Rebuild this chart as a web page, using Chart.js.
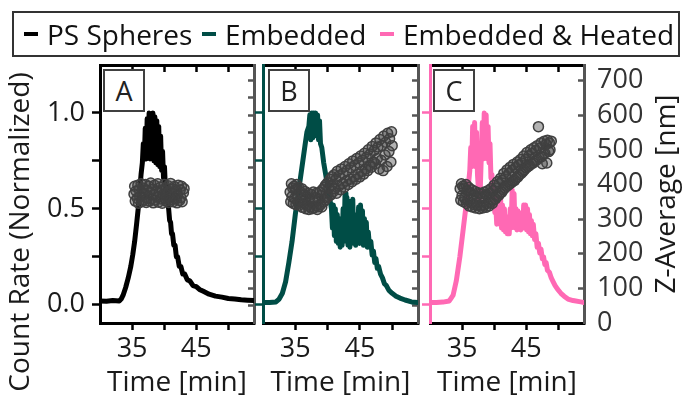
<!DOCTYPE html>
<html>
<head>
<meta charset="utf-8">
<script src="https://cdn.jsdelivr.net/npm/chart.js@4.4.1/dist/chart.umd.min.js"></script>
<style>
  html, body { margin: 0; padding: 0; background: #fff; }
  #fig { position: relative; width: 683px; height: 402px; overflow: hidden; font-family: 'Open Sans', sans-serif; }
  #fig canvas { position: absolute; left: 0; top: 0; }
  .legend { position: absolute; left: 12px; top: 11px; width: 668px; height: 46px; box-sizing: border-box; border: 2px solid #333; }
  .item { position: absolute; top: 0; height: 42px; display: flex; align-items: center; font-size: 28px; color: #111; white-space: nowrap; }
  .dash { display: inline-block; width: 14px; height: 4px; margin-right: 9px; }
  .tag { position: absolute; top: 69px; width: 42px; height: 43px; box-sizing: border-box; border: 2px solid #404040; background: #fff; font-size: 27px; display: flex; align-items: center; justify-content: center; color: #222; }
</style>
</head>
<body>
<div id="fig">
  <canvas id="cA" width="683" height="402"></canvas>
  <canvas id="cB" width="683" height="402"></canvas>
  <canvas id="cC" width="683" height="402"></canvas>
  <div class="legend">
    <div class="item" style="left:10px"><span class="dash" style="background:#000"></span>PS Spheres</div>
    <div class="item" style="left:188px"><span class="dash" style="background:#004d46"></span>Embedded</div>
    <div class="item" style="left:366px"><span class="dash" style="background:#ff69b4"></span>Embedded &amp; Heated</div>
  </div>
  <div class="tag" style="left:103px">A</div>
  <div class="tag" style="left:268px">B</div>
  <div class="tag" style="left:433px">C</div>
</div>
<script>
// tick values / labels
const timeTicks = [35, 40, 45, 50];
const timeTickLabels = ['35', '', '45', ''];
const countTicks = [0, 0.25, 0.5, 0.75, 1];
const countTickLabels = ['0.0', '', '0.5', '', '1.0'];
const zTicks = [0, 50, 100, 150, 200, 250, 300, 350, 400, 450, 500, 550, 600, 650, 700];
const zTickLabels = ['0', '', '100', '', '200', '', '300', '', '400', '', '500', '', '600', '', '700'];

// count rate (normalized) vs time [min] - noisy parts read as up/down excursions
const countA = [[30,0.02],[31,0.018],[32,0.022],[33,0.02],[33.3,0.03],[33.6,0.05],[34.0,0.09],[34.4,0.14],[34.8,0.2],[35.1,0.26],[35.4,0.33],[35.7,0.42],[35.95,0.5],[36.2,0.6],[36.4,0.68],
  [36.6,0.74],[36.75,0.84],[36.9,0.76],[37.05,0.92],[37.2,0.76],[37.35,0.97],[37.5,0.78],[37.65,1.0],[37.8,0.76],[37.95,0.99],[38.1,0.77],[38.25,1.0],[38.4,0.75],[38.55,0.98],[38.7,0.74],[38.85,0.96],[39.0,0.73],[39.15,0.93],[39.3,0.72],[39.45,0.88],[39.6,0.7],[39.75,0.8],[39.9,0.66],[40.05,0.72],[40.2,0.6],[40.35,0.62],[40.5,0.54],
  [40.7,0.5],[40.85,0.44],[41.0,0.43],[41.15,0.37],[41.3,0.37],[41.5,0.31],[41.7,0.31],[41.9,0.25],[42.1,0.25],[42.35,0.2],[42.6,0.2],[42.9,0.16],[43.2,0.16],[43.6,0.13],[44.0,0.125],[44.5,0.1],[45.0,0.095],[45.5,0.08],[46.1,0.07],[47,0.055],[48,0.045],[49,0.04],[50,0.033],[51,0.03],[52,0.026],[53,0.024],[54,0.022]];
const countB = [[30,0.012],[31,0.012],[32,0.015],[32.5,0.03],[33,0.06],[33.5,0.12],[34,0.22],[34.5,0.33],[35,0.47],[35.5,0.59],[36,0.71],[36.5,0.83],[36.8,0.9],
  [37.1,0.93],[37.25,0.99],[37.4,0.86],[37.55,1.0],[37.7,0.87],[37.85,1.0],[38.0,0.88],[38.15,1.0],[38.3,0.88],[38.45,0.99],[38.6,0.86],[38.75,0.96],[38.9,0.84],[39.1,0.82],[39.4,0.74],[39.7,0.68],[40.0,0.62],[40.3,0.56],[40.6,0.5],
  [40.75,0.4],[40.9,0.52],[41.05,0.36],[41.2,0.5],[41.35,0.33],[41.5,0.47],[41.65,0.32],[41.8,0.45],[41.95,0.3],[42.1,0.44],[42.25,0.31],[42.4,0.5],[42.55,0.33],[42.7,0.58],[42.85,0.34],[43.0,0.56],[43.15,0.31],[43.3,0.48],[43.45,0.3],[43.6,0.54],[43.75,0.33],[43.9,0.55],[44.05,0.32],[44.2,0.47],[44.35,0.31],[44.5,0.44],[44.65,0.33],[44.8,0.51],[44.95,0.32],[45.1,0.52],[45.25,0.33],[45.4,0.49],[45.55,0.31],[45.7,0.45],[45.85,0.31],[46.0,0.43],[46.15,0.3],[46.3,0.38],
  [46.5,0.3],[46.7,0.33],[46.9,0.26],[47.1,0.28],[47.3,0.22],[47.5,0.24],[47.7,0.19],[47.9,0.2],[48.2,0.16],[48.5,0.14],[48.8,0.11],[49.1,0.1],[49.5,0.075],[50,0.06],[50.6,0.045],[51.2,0.035],[52,0.025],[53,0.015],[54,0.012]];
const countC = [[30,0.012],[31,0.012],[32,0.014],[33,0.02],[33.3,0.035],[33.6,0.05],[34.1,0.125],[34.65,0.25],[35.2,0.4],[35.7,0.54],[36.0,0.63],[36.2,0.7],
  [36.35,0.82],[36.5,0.72],[36.65,0.93],[36.8,0.74],[36.95,0.95],[37.1,0.72],[37.25,0.9],[37.4,0.68],[37.55,0.6],[37.7,0.55],[37.85,0.62],[38.0,0.78],[38.15,0.95],[38.3,0.76],[38.45,1.0],[38.6,0.78],[38.75,0.99],[38.9,0.76],[39.05,0.93],[39.2,0.74],[39.35,0.84],[39.5,0.66],[39.65,0.68],[39.8,0.56],[39.95,0.58],[40.1,0.48],[40.25,0.52],[40.4,0.42],
  [40.55,0.45],[40.7,0.55],[40.85,0.42],[41.0,0.56],[41.15,0.4],[41.3,0.52],[41.45,0.39],[41.6,0.5],[41.75,0.38],[41.9,0.46],[42.05,0.37],[42.2,0.44],[42.35,0.37],[42.5,0.5],[42.65,0.4],[42.8,0.6],[42.95,0.42],[43.1,0.58],[43.25,0.4],[43.4,0.5],[43.55,0.39],[43.7,0.49],[43.85,0.4],[44.0,0.48],[44.15,0.39],[44.3,0.47],[44.45,0.4],[44.6,0.52],[44.75,0.4],[44.9,0.52],[45.05,0.39],[45.2,0.5],[45.35,0.38],[45.5,0.47],[45.65,0.37],[45.8,0.44],[45.95,0.36],[46.1,0.42],
  [46.3,0.34],[46.5,0.37],[46.7,0.3],[46.9,0.32],[47.1,0.27],[47.3,0.29],[47.5,0.24],[47.7,0.25],[47.9,0.21],[48.1,0.22],[48.3,0.18],[48.6,0.17],[48.9,0.14],[49.2,0.12],[49.5,0.1],[49.9,0.08],[50.4,0.06],[50.9,0.045],[51.5,0.03],[52.3,0.022],[53.5,0.015],[54,0.012]];

// z-average [nm] vs time [min]
const zA = [[35.3,372],[35.4,395],[35.5,352],[35.6,381],[35.8,360],[35.9,398],[36.0,346],[36.1,385],[36.2,365],[36.4,402],[36.5,350],[36.6,377],[36.7,390],[36.8,355],[37.0,372],[37.1,400],[37.2,348],[37.3,384],[37.4,362],[37.6,395],[37.7,352],[37.8,378],[37.9,404],[38.0,358],[38.2,386],[38.3,347],[38.4,370],[38.5,398],[38.6,355],[38.8,382],[38.9,364],[39.0,402],[39.1,349],[39.2,376],[39.4,392],[39.5,358],[39.6,384],[39.7,346],[39.8,370],[40.0,400],[40.1,360],[40.2,388],[40.3,352],[40.4,375],[40.6,396],[40.7,348],[40.8,380],[40.9,364],[41.0,403],[41.2,356],[41.3,386],[41.4,350],[41.5,372],[41.6,394],[41.8,358],[41.9,382],[42.0,347],[42.1,368],[42.2,398],[42.4,354],[42.5,384],[42.6,362],[42.7,395],[42.8,350],[43.0,376],[43.1,388]];
const zB = [[34.2,378],[34.3,350],[34.4,402],[34.5,365],[34.6,390],[34.7,345],[34.8,395],[34.9,360],[35.0,385],[35.1,342],[35.2,400],[35.3,370],[35.4,350],[35.5,392],[35.6,340],[35.8,378],[35.9,352],[36.0,388],[36.1,334],[36.2,370],[36.4,345],[36.5,380],[36.6,330],[36.7,365],[36.8,340],[37.0,375],[37.1,328],[37.2,360],[37.3,335],[37.4,372],[37.6,330],[37.7,355],[37.8,378],[37.9,332],[38.0,362],[38.2,338],[38.3,375],[38.4,328],[38.5,358],[38.6,336],[38.8,378],[38.9,342],[39.0,368],[39.1,335],[39.2,385],[39.4,350],[39.5,392],[39.6,355],[39.7,398],[39.8,362],[40.0,405],[40.1,365],[40.2,390],[40.4,415],[40.5,370],[40.6,398],[40.7,422],[40.9,380],[41.0,428],[41.1,388],[41.3,415],[41.4,375],[41.5,438],[41.7,395],[41.8,425],[42.0,385],[42.1,445],[42.3,402],[42.4,432],[42.6,392],[42.7,452],[42.9,410],[43.0,440],[43.2,400],[43.3,460],[43.5,415],[43.6,448],[43.8,408],[43.9,468],[44.1,422],[44.2,455],[44.4,415],[44.5,475],[44.7,430],[44.8,462],[45.0,422],[45.1,482],[45.3,438],[45.4,470],[45.6,430],[45.7,490],[45.9,445],[46.0,478],[46.2,440],[46.3,500],[46.5,455],[46.6,488],[46.8,450],[46.9,510],[47.1,465],[47.2,498],[47.4,460],[47.5,520],[47.7,475],[47.8,508],[48.0,445],[48.1,530],[48.3,470],[48.4,512],[48.6,440],[48.7,540],[48.9,485],[49.0,522],[49.2,452],[49.3,548],[49.5,495],[49.6,532],[49.8,465],[49.9,552],[50.0,512]];
const zC = [[34.7,388],[34.8,355],[34.9,402],[35.0,368],[35.1,395],[35.2,350],[35.3,390],[35.4,360],[35.6,400],[35.7,345],[35.8,382],[35.9,356],[36.0,392],[36.1,338],[36.3,376],[36.4,348],[36.5,385],[36.6,335],[36.8,370],[36.9,342],[37.0,380],[37.1,332],[37.3,366],[37.4,340],[37.5,376],[37.7,330],[37.8,362],[37.9,338],[38.0,374],[38.2,332],[38.3,365],[38.4,340],[38.5,378],[38.7,334],[38.8,370],[38.9,345],[39.0,382],[39.2,338],[39.3,374],[39.4,348],[39.5,388],[39.7,345],[39.8,382],[39.9,355],[40.0,398],[40.2,358],[40.3,390],[40.4,365],[40.5,408],[40.7,368],[40.8,402],[40.9,375],[41.0,418],[41.2,378],[41.3,412],[41.4,385],[41.5,432],[41.7,390],[41.8,422],[41.9,395],[42.0,442],[42.2,398],[42.3,432],[42.4,402],[42.5,450],[42.7,405],[42.8,440],[42.9,410],[43.0,458],[43.2,412],[43.3,448],[43.4,418],[43.6,465],[43.7,422],[43.8,456],[43.9,428],[44.1,472],[44.2,432],[44.3,462],[44.5,438],[44.6,482],[44.7,442],[44.9,472],[45.0,448],[45.1,492],[45.3,452],[45.4,482],[45.5,455],[45.7,500],[45.8,460],[45.9,490],[46.1,462],[46.2,506],[46.3,468],[46.5,498],[46.6,470],[46.7,512],[46.9,567],[47.0,478],[47.1,505],[47.3,520],[47.4,480],[47.5,460],[47.7,488],[47.8,525],[47.9,490],[48.1,516],[48.2,462],[48.3,528],[48.5,495],[48.6,520],[48.7,500],[48.9,525]];

Chart.defaults.font.family = "'Open Sans', sans-serif";
Chart.defaults.font.size = 27;
Chart.defaults.color = '#1a1a1a';

// rotated axis titles (both read bottom-to-top, as in the original)
const sideTitles = {
    id: 'sideTitles',
    afterDraw(chart, args, opts) {
        const { ctx, chartArea } = chart;
        (opts.items || []).forEach(t => {
            ctx.save();
            ctx.font = "28px 'Open Sans', sans-serif";
            ctx.fillStyle = '#1a1a1a';
            ctx.textAlign = 'center';
            ctx.textBaseline = 'middle';
            ctx.translate(t.x, (chartArea.top + chartArea.bottom) / 2 + t.dy);
            ctx.rotate(-Math.PI / 2);
            ctx.fillText(t.text, 0, 0);
            ctx.restore();
        });
    }
};

function makePanel(id, p) {
    const ctx = document.getElementById(id).getContext('2d');
    return new Chart(ctx, {
        type: 'line',
        data: {
            datasets: [{
                type: 'line',
                data: p.count,
                yAxisID: 'y',
                borderColor: p.color,
                borderWidth: 5,
                borderJoinStyle: 'round',
                borderCapStyle: 'round',
                pointRadius: 0,
                tension: 0,
                order: 2
            }, {
                type: 'scatter',
                data: p.z,
                yAxisID: 'y2',
                borderColor: '#404040',
                backgroundColor: 'rgba(64,64,64,0.4)',
                borderWidth: 1.5,
                pointRadius: 5,
                order: 1
            }]
        },
        options: {
            responsive: false,
            animation: false,
            events: [],
            layout: { padding: { left: p.left, right: p.right, top: 65, bottom: 0 } },
            plugins: {
                legend: { display: false },
                tooltip: { enabled: false },
                sideTitles: { items: p.titles }
            },
            scales: {
                x: {
                    type: 'linear', position: 'bottom', min: 30, max: 54,
                    afterBuildTicks: s => { s.ticks = timeTicks.map(v => ({ value: v })); },
                    afterFit: s => { s.height = 79; },
                    ticks: { padding: 3, callback: (v, i) => timeTickLabels[i] },
                    grid: { drawOnChartArea: false, tickLength: 7, tickWidth: 2.5, tickColor: '#000' },
                    border: { color: '#000', width: 3 },
                    title: { display: true, text: 'Time [min]', font: { size: 28 }, padding: { top: 0, bottom: 2 } }
                },
                xTop: {
                    type: 'linear', position: 'top', min: 30, max: 54,
                    afterBuildTicks: s => { s.ticks = timeTicks.map(v => ({ value: v })); },
                    afterFit: s => { s.height = 0; },
                    ticks: { display: false },
                    grid: { drawOnChartArea: false, tickLength: -7, tickWidth: 2.5, tickColor: '#000' },
                    border: { color: '#000', width: 3 }
                },
                y: {
                    type: 'linear', position: 'left', min: -0.095, max: 1.25,
                    afterBuildTicks: s => { s.ticks = countTicks.map(v => ({ value: v })); },
                    afterFit: s => { s.width = p.yWidth; },
                    ticks: { display: p.yLabels, padding: 7, callback: (v, i) => countTickLabels[i] },
                    grid: { drawOnChartArea: false, tickLength: 8, tickWidth: 2.5, tickColor: p.color },
                    border: { color: p.color, width: 3 }
                },
                y2: {
                    type: 'linear', position: 'right', min: 0, max: 745,
                    afterBuildTicks: s => { s.ticks = zTicks.map(v => ({ value: v })); },
                    afterFit: s => { s.width = p.y2Width; },
                    ticks: { display: p.y2Labels, padding: 19, color: '#333', callback: (v, i) => zTickLabels[i] },
                    grid: { drawOnChartArea: false, tickLength: -6, tickWidth: 2.5, tickColor: '#555' },
                    border: { color: '#555', width: 3 }
                }
            }
        },
        plugins: [sideTitles]
    });
}

makePanel('cA', {
    count: countA, z: zA, color: '#000000',
    left: 0, right: 429, yWidth: 100, yLabels: true, y2Width: 0, y2Labels: false,
    titles: [{ text: 'Count Rate (Normalized)', x: 21, dy: 38 }]
});
makePanel('cB', {
    count: countB, z: zB, color: '#004d46',
    left: 263, right: 265, yWidth: 0, yLabels: false, y2Width: 0, y2Labels: false,
    titles: []
});
makePanel('cC', {
    count: countC, z: zC, color: '#ff69b4',
    left: 430, right: 0, yWidth: 0, yLabels: false, y2Width: 99, y2Labels: true,
    titles: [{ text: 'Z-Average [nm]', x: 667, dy: 0 }]
});
</script>
</body>
</html>
